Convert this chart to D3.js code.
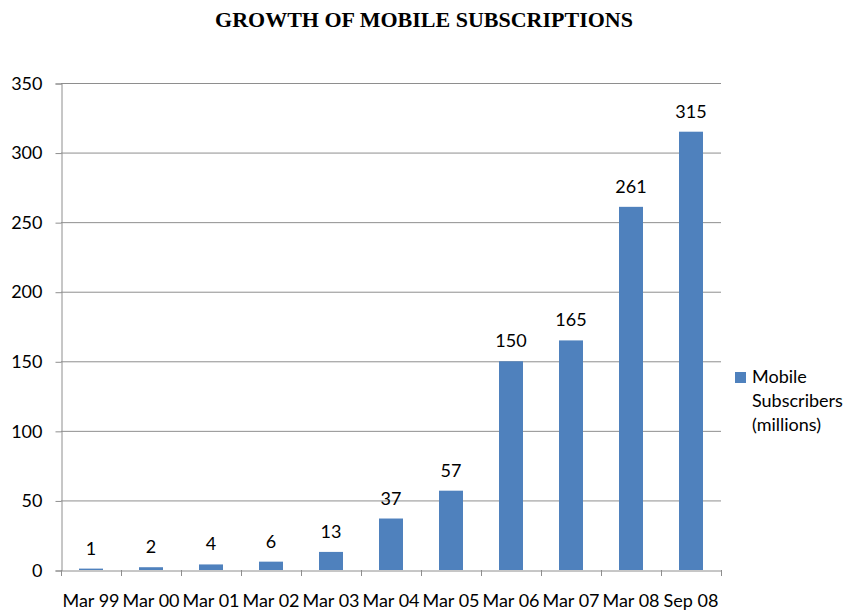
<!DOCTYPE html>
<html>
<head>
<meta charset="utf-8">
<script src="https://cdn.jsdelivr.net/npm/d3@7"></script>
<style>
	body { margin: 0; background: #fff; }
	text { font-family: Lato, "Open Sans", sans-serif; fill: #000; }
</style>
</head>
<body>
<script>
// chart data
const periods = ["Mar 99", "Mar 00", "Mar 01", "Mar 02", "Mar 03", "Mar 04", "Mar 05", "Mar 06", "Mar 07", "Mar 08", "Sep 08"];
const subscribers = [1, 2, 4, 6, 13, 37, 57, 150, 165, 261, 315];
const yTicks = [0, 50, 100, 150, 200, 250, 300, 350];
const seriesName = ["Mobile", "Subscribers", "(millions)"];

var width = 846,
	height = 610;

var margin = { left: 61, right: 125, top: 83, bottom: 40 };

var svg = d3.select("body").append("svg").attr("width", width).attr("height", height);

var x = d3
	.scaleBand()
	.domain(periods)
	.range([margin.left, width - margin.right])
	.paddingInner(0.6)
	.paddingOuter(0.3);

var y = d3
	.scaleLinear()
	.domain([0, 350])
	.range([height - margin.bottom, margin.top]);

// title
svg.append("text")
	.attr("x", 424)
	.attr("y", 27)
	.attr("text-anchor", "middle")
	.style("font-family", "'Liberation Serif', 'Times New Roman', serif")
	.style("font-weight", "bold")
	.style("font-size", "22px")
	.text("GROWTH OF MOBILE SUBSCRIPTIONS");

// gridlines
svg.append("g")
	.selectAll("line")
	.data(yTicks.slice(1))
	.enter()
	.append("line")
	.attr("x1", margin.left)
	.attr("x2", width - margin.right)
	.attr("y1", (d) => y(d) + 0.5)
	.attr("y2", (d) => y(d) + 0.5)
	.style("stroke", "#8e8e8e")
	.style("stroke-width", 1);

// y axis
var yAxis = svg
	.append("g")
	.attr("transform", "translate(" + (margin.left + 0.5) + ",0.5)")
	.call(d3.axisLeft(y).tickValues(yTicks).tickSize(6).tickPadding(13));
yAxis.select(".domain").attr("stroke", "#8e8e8e");
yAxis.selectAll(".tick line").attr("stroke", "#8e8e8e");
yAxis.selectAll("text").style("font-size", "18px").style("font-family", "Lato, sans-serif");

// bars
svg.append("g")
	.selectAll("rect")
	.data(subscribers)
	.enter()
	.append("rect")
	.attr("x", (d, i) => x(periods[i]))
	.attr("y", (d) => y(d))
	.attr("width", x.bandwidth())
	.attr("height", (d) => y(0) - y(d))
	.style("fill", "#4f81bd");

// value labels
svg.append("g")
	.selectAll("text")
	.data(subscribers)
	.enter()
	.append("text")
	.attr("x", (d, i) => x(periods[i]) + x.bandwidth() / 2)
	.attr("y", (d) => y(d) - 14)
	.attr("text-anchor", "middle")
	.style("font-size", "18px")
	.text((d) => d);

// x axis
var xAxis = svg
	.append("g")
	.attr("transform", "translate(0," + (y(0) + 0.5) + ")")
	.call(d3.axisBottom(x).tickSize(0).tickPadding(24));
xAxis.select(".domain").attr("stroke", "#8e8e8e");
xAxis.selectAll("text").style("font-size", "18px").style("font-family", "Lato, sans-serif");

// category separators
var step = x.step();
svg.append("g")
	.selectAll("line")
	.data(d3.range(periods.length + 1))
	.enter()
	.append("line")
	.attr("x1", (i) => margin.left + i * step + 0.5)
	.attr("x2", (i) => margin.left + i * step + 0.5)
	.attr("y1", y(0))
	.attr("y2", y(0) + 6)
	.style("stroke", "#8e8e8e");

// legend
var legend = svg.append("g").attr("transform", "translate(735,372)");
legend.append("rect").attr("width", 11).attr("height", 11).style("fill", "#4f81bd");
legend
	.selectAll("text")
	.data(seriesName)
	.enter()
	.append("text")
	.attr("x", 17)
	.attr("y", (d, i) => 11 + i * 24)
	.style("font-size", "18px")
	.text((d) => d);
</script>
</body>
</html>
